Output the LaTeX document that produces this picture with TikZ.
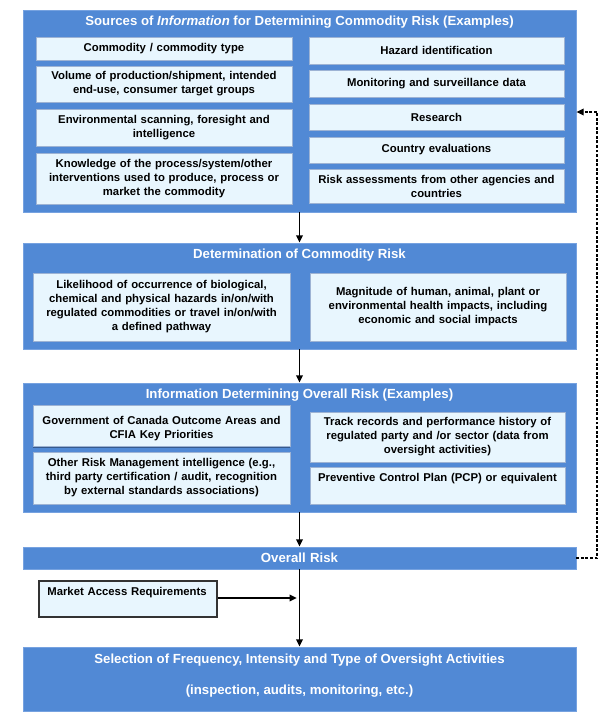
\documentclass[tikz,border=0pt]{standalone}
\usepackage{fontspec}
\setmainfont{Liberation Sans}
\usetikzlibrary{arrows.meta,shadows}
\definecolor{pblue}{HTML}{5189D5}
\definecolor{pedge}{HTML}{76A2E0}
\definecolor{ifill}{HTML}{E8F6FE}
\definecolor{iedge}{HTML}{9DB3D4}
\newcommand\itext{\fontsize{8.5}{10.5}\selectfont\bfseries}
\newcommand\ttext{\fontsize{9.9}{11.5}\selectfont\bfseries}
% #1 style, #2 name, #3 x1, #4 y1, #5 x2, #6 y2, #7 text
\newcommand\bx[7][]{%
  \pgfmathsetmacro\bxw{(#5-#3)*0.75}%
  \pgfmathsetmacro\bxh{(#6-#4)*0.75}%
  \pgfmathsetmacro\bxt{(#5-#3)*0.75-6}%
  \pgfmathsetmacro\bxcx{(#3+#5)/2}%
  \pgfmathsetmacro\bxcy{(#4+#6)/2}%
  \node[minimum width=\bxw pt, minimum height=\bxh pt, text width=\bxt pt, #1] (#2) at (\bxcx,\bxcy) {#7};%
}
\tikzset{
  panel/.style={fill=pblue, draw=pedge, line width=0.6pt, inner sep=0pt},
  ibox/.style={fill=ifill, draw=iedge, line width=0.5pt, inner sep=0pt, align=center, font=\itext},
  ttl/.style={text=white, font=\ttext, inner sep=0pt},
  arr/.style={-{Triangle[length=5.5pt,width=5pt]}, line width=1.1pt, draw=black},
}
\begin{document}
\begin{tikzpicture}[x=0.75pt,y=-0.75pt]
\useasboundingbox (0,0) rectangle (600,722);
% panel 1
\bx[panel]{p1}{23}{10}{576}{212}{}
\node[ttl] (t1) at (299.5,22) {Sources of \textit{Information} for Determining Commodity Risk (Examples)};
\bx[ibox]{a1}{36}{37}{292}{60}{Commodity / commodity type}
\bx[ibox]{a2}{36}{66}{292}{102}{Volume of production/shipment, intended\\end-use, consumer target groups}
\bx[ibox]{a3}{36}{109}{292}{146}{Environmental scanning, foresight and\\intelligence}
\bx[ibox]{a4}{36}{153}{292}{204}{Knowledge of the process/system/other\\interventions used to produce, process or\\market the commodity}
\bx[ibox]{b1}{309}{37}{564}{64}{Hazard identification}
\bx[ibox]{b2}{309}{70}{564}{97}{Monitoring and surveillance data}
\bx[ibox]{b3}{309}{104}{564}{130}{Research}
\bx[ibox]{b4}{309}{137}{564}{163}{Country evaluations}
\bx[ibox]{b5}{309}{169}{564}{203}{Risk assessments from other agencies and\\countries}
% panel 2
\bx[panel]{p2}{23}{243}{576}{349}{}
\node[ttl] (t2) at (299.5,255) {Determination of Commodity Risk};
\bx[ibox]{c1}{33}{273}{290}{341}{Likelihood of occurrence of biological,\\chemical and physical hazards in/on/with\\regulated commodities or travel in/on/with\\a defined pathway}
\bx[ibox]{c2}{310}{273}{566}{341}{Magnitude of human, animal, plant or\\environmental health impacts, including\\economic and social impacts}
% panel 3
\bx[panel]{p3}{23}{383}{576}{512}{}
\node[ttl] (t3) at (299.5,395) {Information Determining Overall Risk (Examples)};
\bx[ibox,text depth=7.4pt,drop shadow={shadow xshift=0.3pt,shadow yshift=-1.2pt,fill=pblue!55!black,opacity=0.75}]{d1}{33}{405}{290}{446}{Government of Canada Outcome Areas and\\CFIA Key Priorities}
\bx[ibox]{d2}{33}{452}{290}{504}{Other Risk Management intelligence (e.g.,\\third party certification / audit, recognition\\by external standards associations)}
\bx[ibox]{e1}{310}{412}{565}{462}{Track records and performance history of\\regulated party and /or sector (data from\\oversight activities)}
\bx[ibox,text depth=12pt]{e2}{310}{467}{565}{504}{Preventive Control Plan (PCP) or equivalent}
% overall risk
\bx[panel,text=white,font=\ttext,align=center]{orisk}{23}{547}{576}{569}{Overall Risk}
% market access
\bx[ibox,draw=black!80,line width=0.8pt,align=left,text depth=11pt,text width=121pt]{mkt}{39}{581}{217}{617}{Market Access Requirements}
% bottom panel
\bx[panel]{sel}{23}{647}{576}{711}{}
\node[ttl] (sel1) at (299.5,660) {Selection of Frequency, Intensity and Type of Oversight Activities};
\node[ttl] (sel2) at (299.5,691) {(inspection, audits, monitoring, etc.)};
% connectors
\draw[arr] (p1.south) -- (p2.north);
\draw[arr] (p2.south) -- (p3.north);
\draw[arr] (p3.south) -- (orisk.north);
\draw[arr] (orisk.south) -- (sel.north);
\draw[arr, shorten >=2pt] (mkt.east |- 0,598) -- (orisk.south |- 0,598);
\coordinate (fb) at (597,112);
\draw[arr, line width=1pt, dash pattern=on 2.2pt off 1.2pt] (orisk.east) -| (fb) -- (fb -| p1.east);
\end{tikzpicture}
\end{document}
